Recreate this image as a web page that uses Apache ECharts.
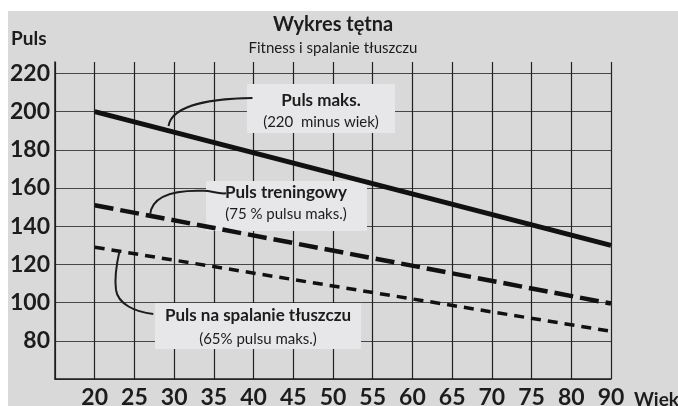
<!DOCTYPE html>
<html>
<head>
<meta charset="utf-8">
<script src="https://cdn.jsdelivr.net/npm/echarts@6/dist/echarts.min.js"></script>
<style>
  html, body { margin: 0; padding: 0; background: #ffffff; }
  #panel { position: absolute; left: 8px; top: 11px; width: 670px; height: 395px; background: #d9d9d9; }
  #chart { position: absolute; left: 0; top: 0; width: 678px; height: 406px; }
</style>
</head>
<body>
<div id="panel"></div>
<div id="chart"></div>
<script>
// Age categories along the bottom (the leading blank slot leaves a column before 20)
const ages = ['', '20', '25', '30', '35', '40', '45', '50', '55', '60', '65', '70', '75', '80', '90'];
// Pulse tick labels on the left
const pulseTicks = [80, 100, 120, 140, 160, 180, 200, 220];
// Heart-rate lines: [age, pulse] at both ends
const maxPulse = [['20', 200], ['90', 130]];
const trainingPulse = [['20', 151], ['90', 99.5]];
const fatBurnPulse = [['20', 129], ['90', 85]];

const FONT = 'Lato, "Open Sans", sans-serif';
const INK = '#1c1c1c';

// one colour per horizontal split line; the last (top edge of the axis) is hidden
const hLineColors = [];
for (let v = 60; v <= 220; v += 20) hLineColors.push('#474747');
hLineColors.push('rgba(0,0,0,0)');

function label(text, x, y, size, bold, align) {
  return {
    type: 'text', z: 6,
    style: {
      text: text, x: x, y: y,
      font: (bold ? 'bold ' : '') + size + 'px ' + FONT,
      fill: INK,
      align: align || 'center', textAlign: align || 'center',
      verticalAlign: 'middle', textVerticalAlign: 'middle'
    }
  };
}
function box(x, y, w, h) {
  return { type: 'rect', z: 1, shape: { x: x, y: y, width: w, height: h }, style: { fill: '#e7e7e9' } };
}
// cubic leader line from (x1,y1) to (x2,y2) with two control points
function leader(x1, y1, c1x, c1y, c2x, c2y, x2, y2) {
  return {
    type: 'bezierCurve', z: 6,
    shape: { x1: x1, y1: y1, cpx1: c1x, cpy1: c1y, cpx2: c2x, cpy2: c2y, x2: x2, y2: y2 },
    style: { fill: null, stroke: INK, lineWidth: 2 }
  };
}

const chart = echarts.init(document.getElementById('chart'), null, { renderer: 'canvas' });
chart.setOption({
  animation: false,
  backgroundColor: 'transparent',
  grid: { left: 55, right: 67, top: 62, bottom: 27, containLabel: false, outerBoundsMode: 'none' },
  xAxis: {
    type: 'category',
    data: ages,
    boundaryGap: false,
    axisLine: { lineStyle: { color: INK, width: 1.5 } },
    axisTick: { show: false },
    axisLabel: {
      interval: 0, margin: 7,
      color: INK, fontFamily: FONT, fontWeight: 'bold', fontSize: 23
    },
    splitLine: { show: true, interval: 0, lineStyle: { color: '#222222', width: 1.2 } }
  },
  yAxis: {
    type: 'value',
    min: 60, max: 226, interval: 20,
    axisLine: { show: true, lineStyle: { color: INK, width: 1.5 } },
    axisTick: { show: false },
    axisLabel: {
      margin: 5,
      color: INK, fontFamily: FONT, fontWeight: 'bold', fontSize: 23,
      showMinLabel: false, showMaxLabel: false,
      formatter: function (v) { return pulseTicks.indexOf(v) >= 0 ? String(v) : ''; }
    },
    splitLine: { show: true, lineStyle: { color: hLineColors, width: 1.2 } }
  },
  series: [
    {
      name: 'Puls maks.', type: 'line', data: maxPulse, showSymbol: false, z: 3,
      lineStyle: { color: '#111111', width: 5, cap: 'butt' }
    },
    {
      name: 'Puls treningowy', type: 'line', data: trainingPulse, showSymbol: false, z: 3,
      lineStyle: { color: '#111111', width: 4.5, type: [19, 7], cap: 'butt' }
    },
    {
      name: 'Puls na spalanie tłuszczu', type: 'line', data: fatBurnPulse, showSymbol: false, z: 3,
      lineStyle: { color: '#111111', width: 3.5, type: [10, 7], cap: 'butt' }
    }
  ],
  graphic: [
    label('Wykres tętna', 333, 25, 20, true),
    label('Fitness i spalanie tłuszczu', 333, 48, 15, false),
    label('Puls', 11, 39, 19, true, 'left'),
    label('Wiek', 634, 400, 19, true, 'left'),

    box(247, 84, 148, 49),
    label('Puls maks.', 321, 101, 17, true),
    label('(220  minus wiek)', 321, 122, 15, false),
    leader(252.5, 98, 215, 98.5, 172, 104, 168.5, 126),

    box(206, 181, 161, 50),
    label('Puls treningowy', 286, 193, 17, true),
    label('(75 % pulsu maks.)', 286, 214, 15, false),
    leader(226, 193.3, 217, 194, 212, 191, 204, 190.8),
    leader(204, 190.8, 180, 190, 152, 193, 150, 215),

    box(155, 303, 206, 46),
    label('Puls na spalanie tłuszczu', 258, 316, 17, true),
    label('(65% pulsu maks.)', 258, 339, 15, false),
    leader(153.3, 314, 135, 312, 118, 304, 116, 290),
    leader(116, 290, 114, 276, 117, 262, 119.5, 251)
  ]
});
</script>
</body>
</html>
